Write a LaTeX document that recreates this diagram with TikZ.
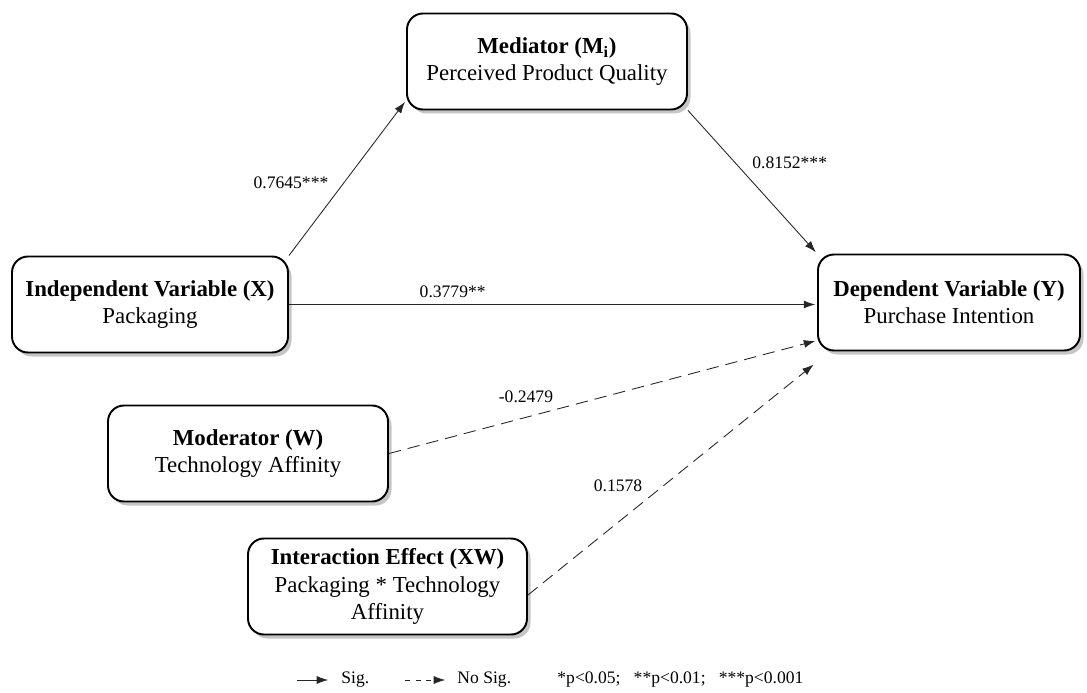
\documentclass[tikz,border=0pt]{standalone}
\usepackage{fontspec}
\setmainfont{Liberation Serif}
\usetikzlibrary{arrows.meta,shadows}

\begin{document}
\begin{tikzpicture}[>={Latex[length=2.3mm,width=1.6mm]},->,shorten >=1pt,draw=black!85,line width=0.5pt]
    \tikzstyle{box}=[draw=black,line width=1.1pt,fill=white,rounded corners=0.32cm,minimum height=1.92cm,align=center,font=\fontsize{13}{15.5}\selectfont,drop shadow={shadow xshift=0.07cm,shadow yshift=-0.08cm,fill=black!45}]
    \tikzstyle{coef}=[font=\fontsize{10}{12}\selectfont,black]
    \tikzstyle{nosig}=[dash pattern=on 7pt off 4pt]

\useasboundingbox (0,0) rectangle (21.74,-13.86);

\node[box,minimum width=5.6cm] (m) at (10.94,-1.23) {\textbf{Mediator (M\textsubscript{i})}\\Perceived Product Quality};
\node[box,minimum width=5.52cm] (x) at (3.0,-6.09) {\textbf{Independent Variable (X)}\\Packaging};
\node[box,minimum width=5.24cm] (y) at (18.98,-6.05) {\textbf{Dependent Variable (Y)}\\Purchase Intention};
\node[box,minimum width=5.6cm] (w) at (4.96,-9.07) {\textbf{Moderator (W)}\\Technology Affinity};
\node[box,minimum width=5.58cm] (xw) at (7.75,-11.73) {\textbf{Interaction Effect (XW)}\\Packaging * Technology\\Affinity};

\draw (x.north east) -- node[coef,pos=0.39,above left] {0.7645***} ([yshift=0.2cm]m.south west);
\draw (m.south east) -- node[coef,pos=0.45,above right] {0.8152***} (y.north west);
\draw (x.east) -- node[coef,pos=0.31,above] {0.3779**} (x.east -| y.west);
\draw[nosig] (w.east) -- node[coef,pos=0.32,above=5pt] {-0.2479} ([yshift=-0.76cm]y.west);
\draw[nosig] ([yshift=-0.17cm]xw.east) -- node[coef,pos=0.42,above left] {0.1578} ([xshift=-0.04cm,yshift=-0.24cm]y.south west);

% legend
\coordinate (s1) at (5.94,-13.6);
\coordinate (s2) at (6.6,-13.6);
\coordinate (d1) at (8.1,-13.6);
\coordinate (d2) at (8.94,-13.6);
\draw (s1) -- (s2);
\draw[dash pattern=on 3pt off 3pt] (d1) -- (d2);
\node[coef,anchor=west,inner sep=0pt] (sig) at (6.82,-13.6) {Sig.};
\node[coef,anchor=west,inner sep=0pt] (nosig) at (9.14,-13.6) {No Sig.};
\node[coef,anchor=west,inner sep=0pt] (pval) at (11.14,-13.6) {*p<0.05;\ \ \ **p<0.01;\ \ \ ***p<0.001};
\end{tikzpicture}
\end{document}
